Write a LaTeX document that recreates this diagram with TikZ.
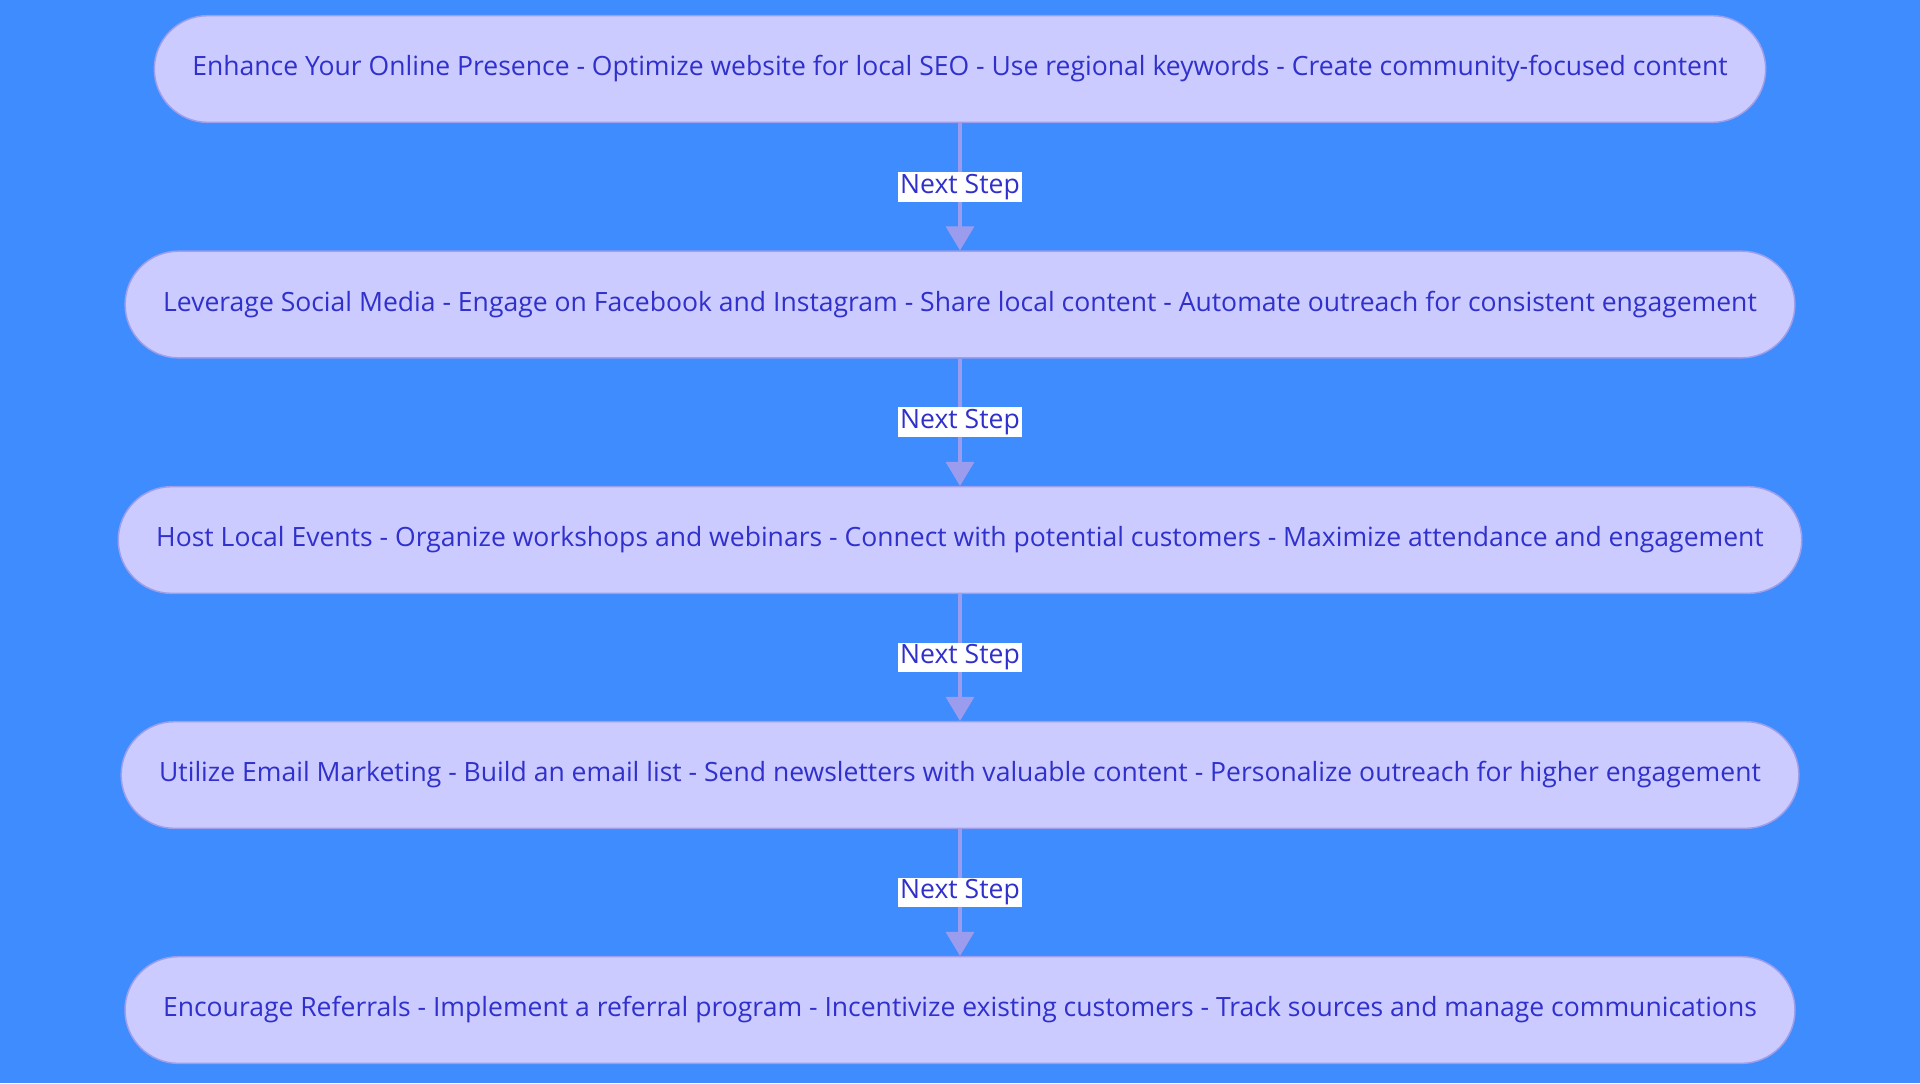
\documentclass[tikz,border=0pt]{standalone}
\usepackage{fontspec}
\setmainfont{Open Sans}
\usetikzlibrary{arrows.meta}

\definecolor{bgblue}{HTML}{3F8CFF}
\definecolor{boxfill}{HTML}{CBCBFF}
\definecolor{boxline}{HTML}{9E9EEA}
\definecolor{stepink}{HTML}{3030CC}
\definecolor{linkline}{HTML}{9C9CEE}

\begin{document}
\begin{tikzpicture}[x=0.75pt, y=-0.75pt,
    stepbox/.style={draw=boxline, line width=1.1pt, fill=boxfill, rounded corners=40pt, minimum height=80pt, inner xsep=28.5pt, text=stepink, font=\fontsize{19.9}{23}\selectfont},
    nextlink/.style={draw=linkline, line width=2.4pt, -{Triangle[width=21pt, length=18pt]}},
    linklabel/.style={fill=white, text=stepink, inner sep=1.5pt, font=\fontsize{19.9}{23}\selectfont}]

    %% background
    \fill[bgblue] (0,0) rectangle (1920,1083);
    \useasboundingbox (0,0) rectangle (1920,1083);

    %% steps
    \node[stepbox](s1) at (960,69){Enhance Your Online Presence - Optimize website for local SEO - Use regional keywords - Create community-focused content};
    \node[stepbox](s2) at (960,304.5){Leverage Social Media - Engage on Facebook and Instagram - Share local content - Automate outreach for consistent engagement};
    \node[stepbox](s3) at (960,540){Host Local Events - Organize workshops and webinars - Connect with potential customers - Maximize attendance and engagement};
    \node[stepbox](s4) at (960,775){Utilize Email Marketing - Build an email list - Send newsletters with valuable content - Personalize outreach for higher engagement};
    \node[stepbox](s5) at (960,1010){Encourage Referrals - Implement a referral program - Incentivize existing customers - Track sources and manage communications};

    %% links
    \draw[nextlink] (s1) -- node[linklabel]{Next Step} (s2);
    \draw[nextlink] (s2) -- node[linklabel]{Next Step} (s3);
    \draw[nextlink] (s3) -- node[linklabel]{Next Step} (s4);
    \draw[nextlink] (s4) -- node[linklabel]{Next Step} (s5);
\end{tikzpicture}
\end{document}
